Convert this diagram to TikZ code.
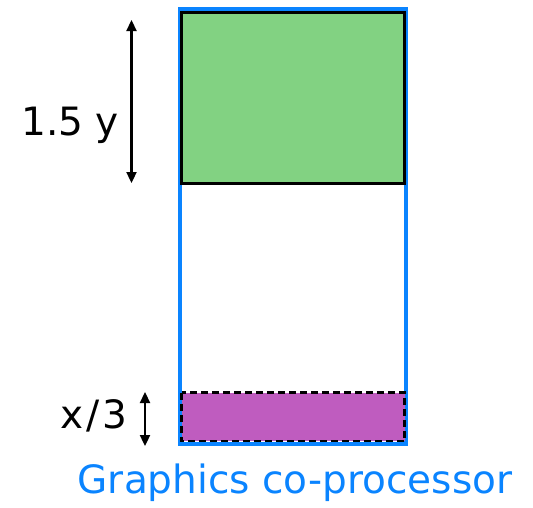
\documentclass[tikz,border=0pt]{standalone}
\usepackage{fontspec}
\setmainfont{DejaVu Sans}
\usetikzlibrary{arrows.meta}
\definecolor{kblue}{RGB}{10,132,255}
\definecolor{kgreen}{RGB}{130,210,130}
\definecolor{kpurple}{RGB}{191,92,191}
\begin{document}
\begin{tikzpicture}[x=1pt,y=-1pt,
  lbl/.style={font=\fontsize{39}{41}\selectfont, inner sep=0pt},
  dimarrow/.style={line width=2.3pt, {Triangle[width=10pt,length=11pt]}-{Triangle[width=10pt,length=11pt]}}]
\useasboundingbox (0,0) rectangle (533,507);
% outer blue frame
\draw[kblue, line width=4pt] (180,8.5) rectangle (405.5,443.5);
% green block
\draw[fill=kgreen, line width=3pt] (181.5,12.8) rectangle (404.5,183);
% purple dashed block
\draw[fill=kpurple, line width=2.5pt, dash pattern=on 7pt off 4pt] (181.5,392.5) rectangle (404.5,441);
% dimension arrows
\coordinate (a1) at (131.5,20);
\coordinate (a2) at (131.5,183);
\draw[dimarrow] (a1) -- (a2);
\coordinate (b1) at (145,392);
\coordinate (b2) at (145,446);
\draw[dimarrow] (b1) -- (b2);
% labels
\node[lbl, anchor=base east] (ly) at (119,135) {1.5 y};
\node[lbl, anchor=base east] (lx) at (128,428) {x\kern3pt/\kern3pt3};
\node[lbl, anchor=base, text=kblue, font=\fontsize{39}{41}\selectfont] (title) at (295,493) {Graphics co-processor};
\end{tikzpicture}
\end{document}
